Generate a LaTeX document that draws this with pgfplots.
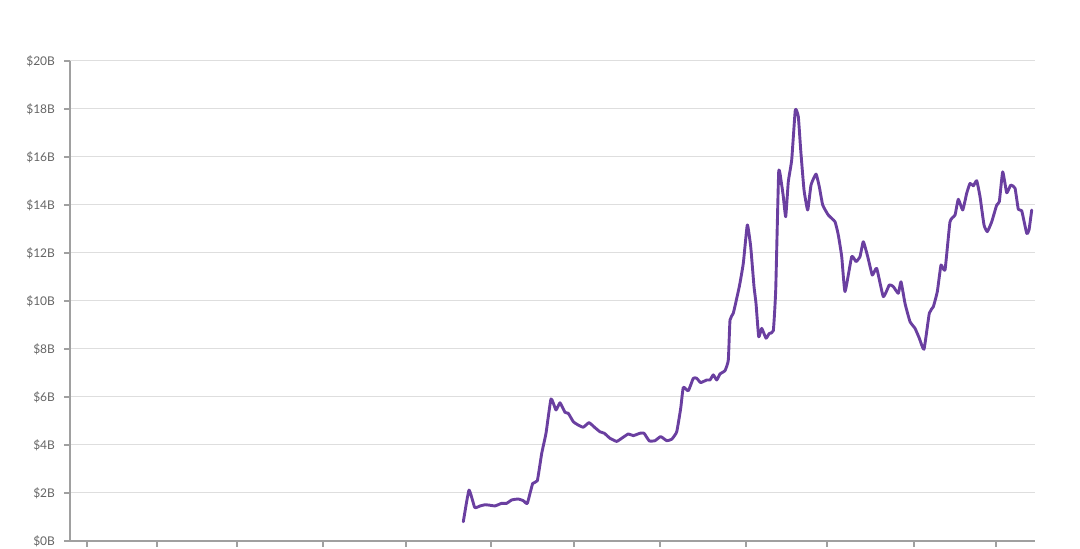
\documentclass[border=0pt]{standalone}
\usepackage{pgfplots}
\pgfplotsset{compat=1.18}
\usepackage{fontspec}
\setmainfont{Lato}
\definecolor{fundline}{RGB}{106,63,160}
\definecolor{gridgray}{RGB}{222,222,222}
\definecolor{axisgray}{RGB}{160,160,160}
\definecolor{labelgray}{RGB}{100,100,100}

% x in chart pixels (axis runs 70..1035), y in $B
\pgfplotstableread{
x y
463.3 0.80
469.0 2.12
474.7 1.40
480.0 1.46
485.0 1.51
490.0 1.49
495.0 1.46
501.7 1.57
506.7 1.57
511.7 1.71
518.3 1.75
523.3 1.68
527.3 1.57
532.7 2.40
537.3 2.51
541.7 3.65
546.0 4.49
551.0 5.92
556.0 5.46
560.0 5.76
565.0 5.36
568.3 5.32
573.3 4.97
578.3 4.83
583.3 4.74
589.0 4.93
595.0 4.72
600.0 4.55
604.3 4.49
610.0 4.28
616.7 4.15
621.7 4.28
628.3 4.46
633.3 4.39
640.0 4.49
644.0 4.49
649.3 4.17
655.0 4.18
660.7 4.35
666.7 4.18
671.7 4.24
676.7 4.55
680.7 5.53
683.3 6.40
688.3 6.26
693.3 6.78
696.7 6.78
700.7 6.60
706.7 6.71
710.0 6.71
713.3 6.92
716.7 6.71
720.0 6.96
725.0 7.10
728.3 7.54
730.0 9.21
733.3 9.49
739.3 10.60
743.3 11.57
747.3 13.17
750.7 12.26
754.0 10.60
756.0 9.90
758.7 8.51
761.7 8.86
766.0 8.45
769.3 8.65
773.3 8.76
775.7 10.46
778.7 15.39
781.7 14.83
783.3 14.35
785.7 13.51
788.3 14.97
791.7 15.88
795.3 17.96
798.3 17.68
800.7 16.29
804.0 14.63
807.7 13.79
811.0 14.83
816.0 15.29
819.3 14.76
822.7 14.00
828.3 13.58
835.0 13.30
838.3 12.75
841.7 11.85
845.0 10.39
851.7 11.85
856.0 11.64
860.0 11.85
863.3 12.47
867.7 11.85
872.3 11.08
876.7 11.36
883.3 10.18
889.3 10.67
893.3 10.60
898.3 10.32
901.0 10.80
905.0 9.90
910.0 9.14
915.0 8.86
919.3 8.45
924.0 7.99
929.3 9.49
933.3 9.76
937.3 10.39
941.0 11.50
945.0 11.29
950.0 13.30
955.0 13.58
958.3 14.24
962.7 13.79
966.7 14.49
970.0 14.90
973.3 14.80
976.7 15.01
980.0 14.35
984.0 13.17
987.3 12.89
991.7 13.30
996.7 14.00
999.3 14.14
1002.7 15.38
1006.7 14.51
1010.7 14.83
1015.0 14.70
1018.3 13.82
1021.7 13.76
1026.7 12.82
1029.0 12.96
1031.7 13.79
}\fundingdata

\begin{document}
\begin{tikzpicture}
  \begin{axis}[
      name=ax,
      scale only axis,
      width=482.5pt,
      height=240pt,
      xmin=70, xmax=1035,
      ymin=0, ymax=20,
      axis x line=bottom,
      axis y line=left,
      axis line style={-, draw=axisgray, line width=0.7pt},
      ytick={0,2,...,20},
      yticklabels={\$0B,\$2B,\$4B,\$6B,\$8B,\$10B,\$12B,\$14B,\$16B,\$18B,\$20B},
      xtick={87,157,237,323,406,491,574,660,746,827,914,996},
      xticklabels={},
      tick align=outside,
      major tick length=3pt,
      tick style={draw=axisgray, line width=0.6pt},
      ymajorgrids,
      grid style={draw=gridgray, line width=0.5pt},
      yticklabel style={font=\fontsize{6}{7}\selectfont, text=labelgray, xshift=-1pt},
      clip=false,
    ]
    \addplot[color=fundline, line width=1.45pt, line join=round, line cap=round,
             smooth, tension=0.25]
      table[x=x, y=y] {\fundingdata};
  \end{axis}
  \pgfresetboundingbox
  \useasboundingbox ([shift={(-35pt,-4pt)}]ax.south west) rectangle ++(540pt,274.5pt);
\end{tikzpicture}
\end{document}
